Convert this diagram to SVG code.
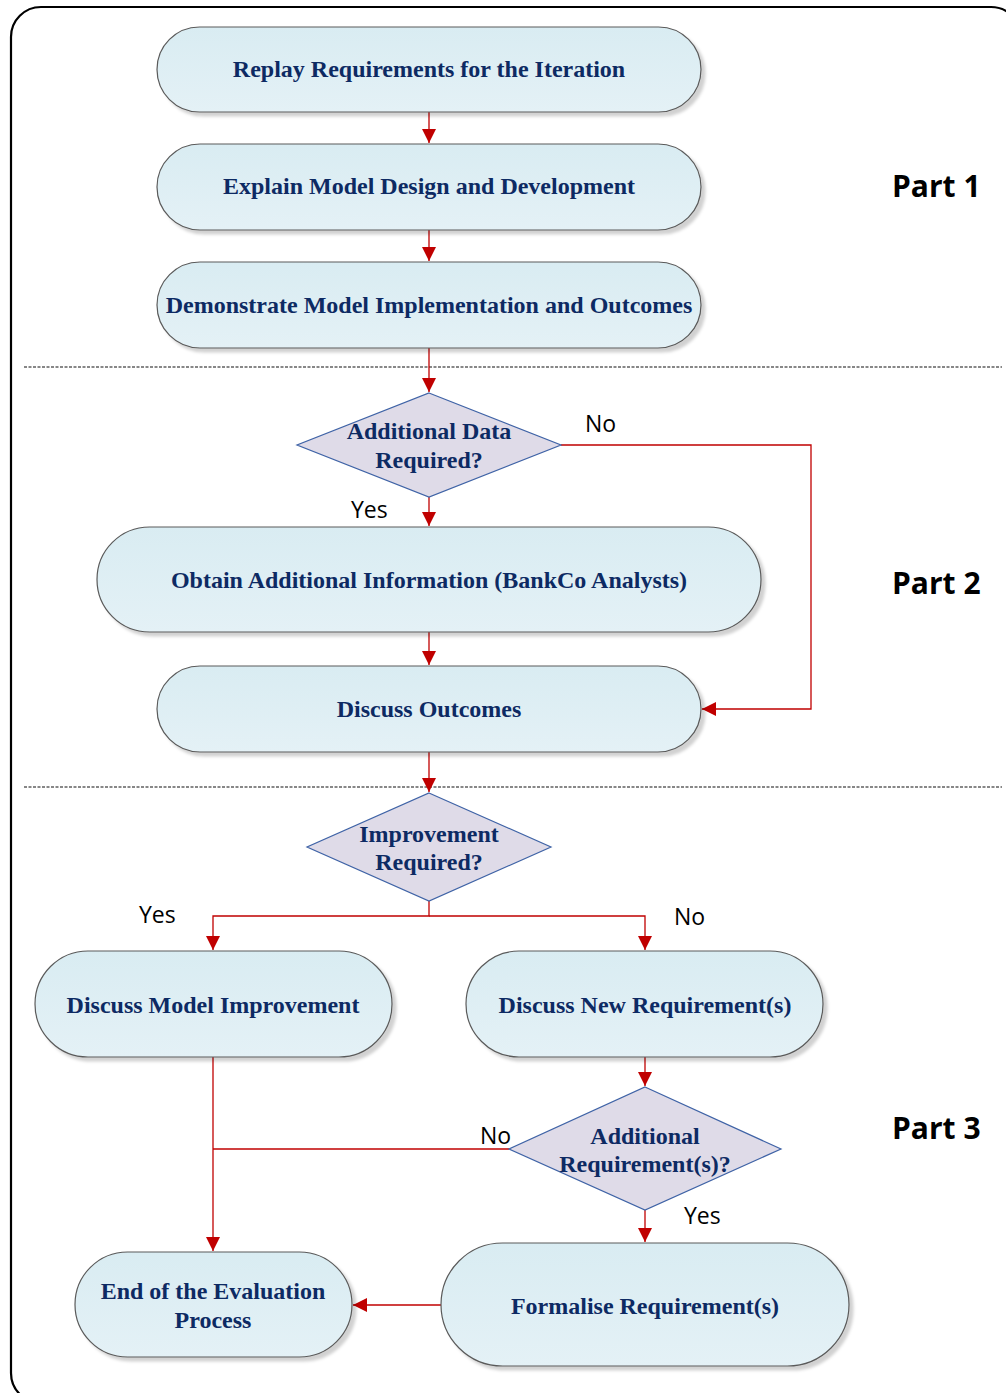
<svg xmlns="http://www.w3.org/2000/svg" width="1006" height="1393" viewBox="0 0 1006 1393">
  <style>
    .term { fill: url(#termFill); stroke: #5a5a5a; stroke-width: 1.2; filter: url(#shade); }
    .dec { fill: #dfdbe8; stroke: #3f63a6; stroke-width: 1.2; }
    .lbl { font-family: "Liberation Serif", "Times New Roman", serif; font-weight: bold; font-size: 24px; fill: #0d2a63; text-anchor: middle; }
    .edge { fill: none; stroke: #c00000; stroke-width: 1.3; }
    .cap { font-family: "Open Sans", "Liberation Sans", sans-serif; font-size: 23px; fill: #000; }
    .part { font-family: "Open Sans", "Liberation Sans", sans-serif; font-weight: bold; font-size: 30px; fill: #000; }
    .sep { stroke: #111; stroke-width: 1.2; stroke-dasharray: 3 1.5; }
  </style>
  <defs>
    <linearGradient id="termFill" x1="0" y1="0" x2="0" y2="1">
      <stop offset="0" stop-color="#d9ecf2"/>
      <stop offset="1" stop-color="#e4f1f6"/>
    </linearGradient>
    <filter id="shade" x="-5%" y="-10%" width="115%" height="130%">
      <feGaussianBlur in="SourceAlpha" stdDeviation="1.5"/>
      <feOffset dx="4" dy="4" result="b"/>
      <feFlood flood-color="#000" flood-opacity="0.18"/>
      <feComposite in2="b" operator="in"/>
      <feMerge><feMergeNode/><feMergeNode in="SourceGraphic"/></feMerge>
    </filter>
    <marker id="arr" viewBox="0 0 14 14" refX="14" refY="7" markerWidth="14" markerHeight="14" markerUnits="userSpaceOnUse" orient="auto">
      <path d="M0,0 L14,7 L0,14 Z" fill="#c00000"/>
    </marker>
  </defs>

  <rect x="11" y="7" width="1010" height="1396" rx="30" fill="#fff" stroke="#000" stroke-width="2.2"/>

  <line class="sep" x1="24" y1="367" x2="1002" y2="367"/>
  <line class="sep" x1="24" y1="787" x2="1002" y2="787"/>

  <text class="part" x="892" y="197">Part 1</text>
  <text class="part" x="892" y="594">Part 2</text>
  <text class="part" x="892" y="1139">Part 3</text>

  <g id="connectors">
    <path class="edge" d="M429,112 V143" marker-end="url(#arr)"/>
    <path class="edge" d="M429,230 V261" marker-end="url(#arr)"/>
    <path class="edge" d="M429,348 V392" marker-end="url(#arr)"/>
    <path class="edge" d="M429,497 V526" marker-end="url(#arr)"/>
    <path class="edge" d="M561,445 H811 V709 H702" marker-end="url(#arr)"/>
    <path class="edge" d="M429,632 V665" marker-end="url(#arr)"/>
    <path class="edge" d="M429,752 V792" marker-end="url(#arr)"/>
    <path class="edge" d="M429,901 V916 H213 V950" marker-end="url(#arr)"/>
    <path class="edge" d="M429,916 H645 V950" marker-end="url(#arr)"/>
    <path class="edge" d="M645,1057 V1086" marker-end="url(#arr)"/>
    <path class="edge" d="M213,1057 V1251" marker-end="url(#arr)"/>
    <path class="edge" d="M509,1149 H213"/>
    <path class="edge" d="M645,1210 V1242" marker-end="url(#arr)"/>
    <path class="edge" d="M441,1305 H353" marker-end="url(#arr)"/>
    <text class="cap" x="585" y="432">No</text>
    <text class="cap" x="351" y="518">Yes</text>
    <text class="cap" x="139" y="923">Yes</text>
    <text class="cap" x="674" y="925">No</text>
    <text class="cap" x="480" y="1144">No</text>
    <text class="cap" x="684" y="1224">Yes</text>
  </g>

  <g id="replay">
    <rect class="term" x="157" y="27" width="544" height="85" rx="42.5"/>
    <text class="lbl" x="429" y="77">Replay Requirements for the Iteration</text>
  </g>
  <g id="explain">
    <rect class="term" x="157" y="144" width="544" height="86" rx="43"/>
    <text class="lbl" x="429" y="194">Explain Model Design and Development</text>
  </g>
  <g id="demonstrate">
    <rect class="term" x="157" y="262" width="544" height="86" rx="43"/>
    <text class="lbl" x="429" y="313">Demonstrate Model Implementation and Outcomes</text>
  </g>
  <g id="data-check">
    <polygon class="dec" points="429,393 561,445 429,497 297,445"/>
    <text class="lbl" x="429" y="439">Additional Data</text>
    <text class="lbl" x="429" y="468">Required?</text>
  </g>
  <g id="obtain">
    <rect class="term" x="97" y="527" width="664" height="105" rx="52.5"/>
    <text class="lbl" x="429" y="588">Obtain Additional Information (BankCo Analysts)</text>
  </g>
  <g id="outcomes">
    <rect class="term" x="157" y="666" width="544" height="86" rx="43"/>
    <text class="lbl" x="429" y="717">Discuss Outcomes</text>
  </g>
  <g id="improve-check">
    <polygon class="dec" points="429,793 551,847 429,901 307,847"/>
    <text class="lbl" x="429" y="842">Improvement</text>
    <text class="lbl" x="429" y="870">Required?</text>
  </g>
  <g id="model-improvement">
    <rect class="term" x="35" y="951" width="357" height="106" rx="53"/>
    <text class="lbl" x="213" y="1013">Discuss Model Improvement</text>
  </g>
  <g id="new-requirements">
    <rect class="term" x="466" y="951" width="357" height="106" rx="53"/>
    <text class="lbl" x="645" y="1013">Discuss New Requirement(s)</text>
  </g>
  <g id="req-check">
    <polygon class="dec" points="645,1087 781,1149 645,1210 509,1149"/>
    <text class="lbl" x="645" y="1144">Additional</text>
    <text class="lbl" x="645" y="1172">Requirement(s)?</text>
  </g>
  <g id="formalise">
    <rect class="term" x="441" y="1243" width="408" height="123" rx="61.5"/>
    <text class="lbl" x="645" y="1314">Formalise Requirement(s)</text>
  </g>
  <g id="end">
    <rect class="term" x="75" y="1252" width="277" height="105" rx="52.5"/>
    <text class="lbl" x="213" y="1299">End of the Evaluation</text>
    <text class="lbl" x="213" y="1328">Process</text>
  </g>
</svg>
